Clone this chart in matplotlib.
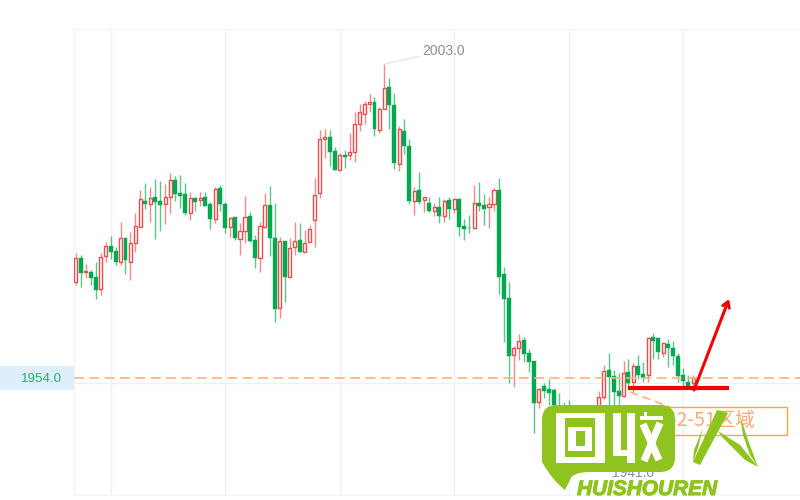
import matplotlib
matplotlib.use("Agg")
import matplotlib.pyplot as plt
import matplotlib.patheffects as pe
from matplotlib.patches import Polygon, Rectangle, PathPatch
from matplotlib.path import Path

plt.rcParams['font.family'] = ['Liberation Sans', 'Noto Sans CJK SC', 'DejaVu Sans']

rising = "RGRGGRRGGRGRRRGRGGRRGGGRGRGGRGG" \
         "RGRRGGRRGGRGRRGRRRRRGGRGRRRRRGRRGG" \
         "RGGRGRGRGRGRGGGRGGRRGGGRRGGGRGGGG" \
         "RGRGRGRRRGGGRGRGGRGGRGGGGGR"

highs = [1973.56,1973.19,1971.79,1970.85,1972.15,1973.46,1975.28,1976.21,1974.39,1978.4,
 1975.9,1976.78,1979.8,1983.34,1984.38,1983.75,1985.0,1984.74,1984.27,1985.94,
 1985.52,1985.68,1984.38,1982.97,1982.19,1982.97,1982.97,1981.52,1983.75,1984.12,1981.41,
 1979.18,1979.18,1978.14,1982.41,1979.86,1976.32,1978.4,1982.82,1984.02,1981.36,
 1975.95,1975.43,1975.8,1978.4,1978.14,1977.1,1977.88,1985.16,1992.71,1992.81,
 1992.71,1990.0,1989.06,1989.58,1992.29,1995.57,1996.71,1997.28,1998.27,1997.8,
 1996.35,2003.0,2000.77,1998.43,
 1993.32,1994.36,1991.24,1983.75,1986.09,1982.29,1982.29,1981.25,1982.29,1981.88,
 1982.19,1982.03,1982.03,1978.81,1979.43,1984.11,1984.53,1982.71,1982.19,1983.59,
 1985.26,1971.26,1968.98,1959.04,1960.86,1960.44,1958.52,1956.7,1952.38,1953.16,
 1953.79,1952.44,1951.66,1950.25,1950.57,1948.0,1947.5,1948.0,1947.5,1948.5,
 1951.97,1956.03,1957.85,1955.25,1954.83,1956.7,1956.91,1956.39,1957.59,1956.55,
 1960.35,1960.97,1960.29,1959.67,1960.03,1959.77,1957.85,1955.51,1954.47,1954.47]
body_tops = [1972.67,1972.67,1970.64,1970.59,1969.81,1972.93,1974.6,1974.65,1973.82,1975.9,
 1975.9,1975.01,1977.72,1981.88,1981.62,1982.14,1982.3,1981.62,1982.19,1984.85,
 1984.85,1982.87,1982.71,1982.14,1982.04,1982.14,1982.19,1981.1,1983.44,1983.6,1981.1,
 1979.02,1979.08,1976.99,1979.18,1979.28,1975.54,1977.72,1981.05,1980.95,1975.9,
 1975.33,1975.33,1974.34,1975.33,1975.49,1975.12,1977.31,1982.56,1991.25,1991.56,
 1991.66,1989.37,1988.75,1988.86,1989.22,1993.59,1995.46,1996.81,1997.02,1997.07,
 1996.03,1999.31,1999.47,1996.61,
 1992.9,1992.59,1990.2,1983.23,1983.33,1982.19,1981.36,1980.63,1980.68,1981.57,
 1981.77,1981.88,1981.88,1977.72,1977.45,1981.3,1981.36,1980.94,1981.2,1983.28,
 1983.33,1970.17,1966.43,1958.73,1959.82,1959.87,1957.84,1956.7,1952.22,1952.74,
 1952.22,1952.13,1949.32,1948.5,1948.8,1947.5,1947.0,1947.5,1947.0,1948.0,
 1951.08,1955.09,1955.2,1954.31,1952.02,1954.73,1954.88,1955.82,1955.82,1954.62,
 1960.29,1960.35,1960.19,1959.41,1959.3,1958.73,1957.43,1954.47,1953.32,1954.05]
body_bots = [1969.03,1970.44,1970.49,1969.55,1967.73,1967.84,1973.09,1973.71,1972.05,1972.15,
 1972.36,1972.15,1975.01,1977.62,1981.15,1981.15,1981.52,1981.0,1981.1,1982.3,
 1982.77,1982.35,1979.7,1979.7,1981.41,1981.73,1980.84,1978.76,1978.76,1981.15,1977.36,
 1977.51,1975.8,1975.64,1976.99,1975.38,1972.78,1972.68,1977.62,1975.8,1964.77,
 1964.87,1969.82,1969.82,1974.39,1973.72,1973.61,1975.28,1978.66,1982.82,1991.25,
 1989.32,1986.46,1986.46,1988.44,1988.8,1989.32,1993.59,1995.25,1996.71,1992.86,
 1992.76,1995.93,1996.61,1987.5,
 1987.39,1990.2,1981.67,1981.67,1981.51,1981.72,1980.11,1980.11,1979.28,1979.33,
 1980.37,1980.32,1977.61,1977.25,1977.35,1977.35,1980.84,1980.37,1980.68,1981.15,
 1969.81,1966.37,1957.43,1957.58,1958.73,1957.69,1956.54,1950.14,1950.3,1951.97,
 1951.7,1949.79,1948.23,1947.5,1947.0,1946.0,1945.5,1946.0,1944.5,1945.5,
 1949.0,1951.08,1954.2,1951.86,1951.19,1951.19,1953.27,1953.32,1954.47,1954.05,
 1954.47,1959.83,1958.0,1957.95,1958.63,1957.48,1954.36,1953.58,1952.8,1953.17]
lows = [1968.51,1968.25,1969.55,1968.51,1966.33,1966.95,1972.05,1972.52,1971.63,1971.63,
 1970.23,1969.29,1973.71,1977.62,1980.37,1978.4,1975.64,1976.94,1978.03,1979.7,
 1981.67,1980.58,1979.44,1978.66,1980.06,1980.84,1980.84,1977.2,1978.24,1980.11,1976.68,
 1976.06,1975.54,1973.2,1975.02,1975.28,1971.12,1970.6,1977.36,1973.04,1962.79,
 1963.31,1965.81,1969.82,1973.2,1973.72,1973.61,1975.28,1974.5,1982.15,1988.28,
 1987.14,1986.46,1986.36,1986.72,1988.02,1987.66,1992.55,1993.64,1995.57,1991.82,
 1992.29,1995.93,1992.81,1986.57,
 1986.35,1988.95,1981.15,1979.43,1981.15,1979.95,1979.95,1979.28,1978.13,1978.29,
 1978.81,1979.69,1976.21,1975.53,1976.57,1977.19,1980.11,1977.87,1977.35,1980.11,
 1967.05,1959.66,1953.26,1952.54,1956.8,1956.54,1954.98,1945.42,1949.26,1950.92,
 1949.78,1948.69,1946.67,1946.0,1945.0,1944.5,1944.0,1944.0,1941.0,1943.0,
 1946.67,1950.72,1949.79,1949.79,1949.79,1951.09,1952.13,1951.45,1953.79,1953.43,
 1953.43,1956.91,1956.91,1957.33,1955.66,1956.03,1953.43,1952.65,1952.49,1952.39]

grid_candles = [7, 30, 53, 76, 99, 122]
last_price = 1954.0
high_label = "2003.0"
low_label = "1941.0"
zone_label = "1952-51区域"

RED = "#ef4b4b"
GREEN = "#00a94f"
n = min(len(highs), len(body_tops), len(body_bots), len(lows), len(rising))
xs = list(range(n))

fig = plt.figure(figsize=(8, 5), dpi=100, facecolor="white")
ax = fig.add_axes([74/800, 5/500, 726/800, 466/500])
ax.set_xlim(-0.34, 145.44)
ax.set_ylim(1935.74, 2008.46)
ax.spines["right"].set_visible(False)
for s in ("left", "top", "bottom"):
    ax.spines[s].set_color("#f3f4f7")
    ax.spines[s].set_linewidth(1)
ax.set_xticks([]); ax.set_yticks([])

for g in grid_candles:
    ax.axvline(g, color="#eef0f6", lw=1, zorder=1)
ax.axhline(1953.22, color="#eef0f6", lw=1, zorder=1)

for i in xs:
    c = RED if rising[i] == "R" else GREEN
    ax.vlines(i, lows[i], highs[i], color=c, lw=1, alpha=0.65, zorder=2)
    h = body_tops[i] - body_bots[i]
    if rising[i] == "R":
        ax.bar(i, h, bottom=body_bots[i], width=0.62, facecolor="white",
               edgecolor=RED, linewidth=1, zorder=3)
    else:
        ax.bar(i, h, bottom=body_bots[i], width=0.8, facecolor=GREEN,
               edgecolor=GREEN, linewidth=0.3, zorder=3)

ax.axhline(last_price, color="#ffb27f", lw=1.2, dashes=(6, 3.2), zorder=4)

ax.annotate(high_label, xy=(62, 2003.0), xytext=(422, 449), textcoords="figure pixels",
            fontsize=10, color="#8b8f98", va="center", ha="left",
            arrowprops=dict(arrowstyle="-", color="#e6e8ee", lw=1, shrinkA=0, shrinkB=0))
ax.annotate(low_label, xy=(103, 1941.0), xytext=(633, 27), textcoords="figure pixels",
            fontsize=10, color="#8592a8", va="center", ha="center",
            arrowprops=dict(arrowstyle="-", color="#e6e8ee", lw=1, shrinkA=0, shrinkB=14))

# overlay in pixel space for the decorations
ov = fig.add_axes([0, 0, 1, 1], facecolor="none")
ov.set_xlim(0, 800); ov.set_ylim(500, 0); ov.axis("off")

ov.add_patch(Rectangle((0, 366), 74, 24, facecolor="#deeefc", edgecolor="none", zorder=2))
ov.text(62, 378.5, f"{last_price:.1f}", color="#1db56c", fontsize=9.6, ha="right", va="center", zorder=3)

# zone note
ov.plot([630, 670], [392, 407], color="#ffb27f", lw=1.2, dashes=(5, 3), zorder=3)
ov.add_patch(Rectangle((632, 407), 155, 27.5, facecolor="none", edgecolor="#f9a93a", lw=1, zorder=3))
ov.text(755, 420, zone_label, color="#ffa878", fontsize=14, ha="right", va="center", zorder=3,
        family=['Noto Sans CJK SC', 'DejaVu Sans'])

# hand-drawn red marks
ov.plot([628, 729], [388, 388], color="#f50000", lw=3, solid_capstyle="butt", zorder=5)
ov.annotate("", xy=(729, 299), xytext=(694, 390),
            arrowprops=dict(arrowstyle="->,head_length=0.4,head_width=0.25", color="#f50000", lw=2.2,
                            shrinkA=0, shrinkB=0), zorder=5)

# watermark
WM = "#8fc31f"
verts = [(557, 405), (660, 405), (675, 405), (675, 420), (675, 457), (675, 472), (660, 472),
         (590, 472), (572, 472), (570, 480), (565, 490), (552, 480), (542, 462), (542, 420),
         (542, 405), (557, 405), (557, 405)]
codes = [Path.MOVETO, Path.LINETO, Path.CURVE3, Path.CURVE3, Path.LINETO, Path.CURVE3, Path.CURVE3,
         Path.LINETO, Path.CURVE3, Path.CURVE3, Path.LINETO, Path.CURVE3, Path.CURVE3, Path.LINETO,
         Path.CURVE3, Path.CURVE3, Path.CLOSEPOLY]
ov.add_patch(PathPatch(Path(verts, codes), facecolor=WM, edgecolor="none", zorder=10))
def box(x0, y0, x1, y1, c):
    ov.add_patch(Rectangle((x0, y0), x1-x0, y1-y0, facecolor=c, edgecolor="none", zorder=11))
box(555.7, 412.7, 605, 462.7, "white")
box(565, 418, 595, 457, WM)
box(568, 427, 592, 451, "white")
box(576, 431, 585, 446, WM)
box(612.7, 412.7, 621, 456, "white")
box(612.7, 450, 635, 456, "white")
box(627, 412.7, 635, 463, "white")
box(640, 416, 663, 420, "white")
box(644, 412, 647, 418, "white")
ov.plot([643, 659], [424, 460], color="white", lw=5.2, solid_capstyle="butt", zorder=11)
ov.plot([660, 644], [423, 461], color="white", lw=5.2, solid_capstyle="butt", zorder=11)
ov.text(577, 489.5, "HUISHOUREN", color=WM, fontsize=15, fontweight="bold", style="italic",
        ha="left", va="center", zorder=11,
        path_effects=[pe.withStroke(linewidth=0.8, foreground=WM)])
ov.add_patch(Polygon([(717, 410), (728, 413), (700, 465), (693, 462)], facecolor=WM, edgecolor="none", zorder=11))
ov.add_patch(Polygon([(703, 428), (694, 450), (693, 462), (698, 448)], facecolor=WM, edgecolor="none", zorder=11))
ov.add_patch(Polygon([(718, 431), (740, 445), (758, 467), (745, 460), (722, 437)], facecolor=WM, edgecolor="none", zorder=11))
ov.add_patch(Polygon([(740, 415), (748, 440), (758, 467), (750, 455), (743, 435)], facecolor=WM, edgecolor="none", zorder=11))

fig.savefig("out.png", dpi=100)
